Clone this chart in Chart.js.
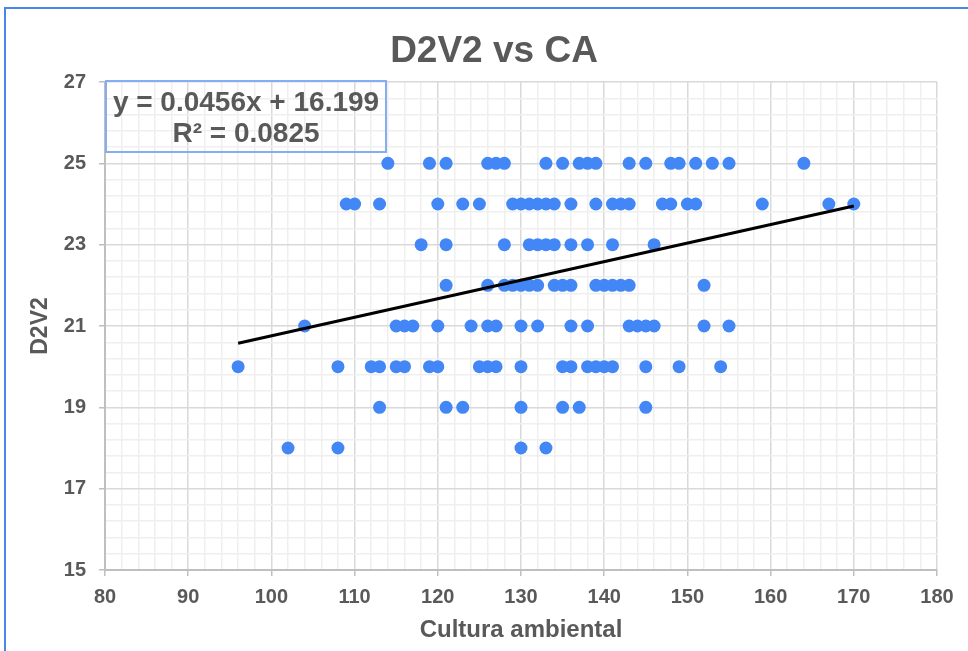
<!DOCTYPE html>
<html>
<head>
<meta charset="utf-8">
<script src="https://cdn.jsdelivr.net/npm/chart.js@4.4.1/dist/chart.umd.min.js"></script>
<style>
  html, body { margin: 0; padding: 0; background: #fff; overflow: hidden; }
  body { width: 968px; height: 651px; position: relative; font-family: "Liberation Sans", Arial, sans-serif; }
  #frame { position: absolute; left: 4px; top: 7px; width: 2000px; height: 2000px; border: 2px solid #4a86e8; box-sizing: border-box; }
  #chart-wrap { position: absolute; left: 0; top: 0; width: 968px; height: 651px; }
  #title { position: absolute; left: 294px; top: 30px; width: 400px; text-align: center; font-weight: bold; font-size: 37px; line-height: 40px; color: #595959; }
  #equation { position: absolute; left: 105px; top: 80px; width: 282px; height: 73px; box-sizing: border-box; border: 2px solid #86adf2; text-align: center; font-weight: bold; font-size: 28px; line-height: 31px; color: #595959; padding-top: 4px; white-space: nowrap; }
</style>
</head>
<body>
<div id="frame"></div>
<div id="chart-wrap"><canvas id="scatter-chart"></canvas></div>
<div id="title">D2V2 vs CA</div>
<div id="equation">y = 0.0456x + 16.199<br>R² = 0.0825</div>
<script>
// Cultura ambiental (x) and D2V2 (y), one row per D2V2 level
const row25 = [114, 119, 121, 126, 127, 128, 133, 135, 137, 138, 139, 143, 145, 148, 149, 151, 153, 155, 164];
const row24 = [109, 110, 113, 120, 123, 125, 129, 130, 131, 132, 133, 134, 136, 139, 141, 142, 143, 147, 148, 150, 151, 159, 167, 170];
const row23 = [118, 121, 128, 131, 132, 133, 134, 136, 138, 141, 146];
const row22 = [121, 126, 128, 129, 130, 131, 132, 134, 135, 136, 139, 140, 141, 142, 143, 152];
const row21 = [104, 115, 116, 117, 120, 124, 126, 127, 130, 132, 136, 138, 143, 144, 145, 146, 152, 155];
const row20 = [96, 108, 112, 113, 115, 116, 119, 120, 125, 126, 127, 130, 135, 136, 138, 139, 140, 141, 145, 149, 154];
const row19 = [113, 121, 123, 130, 135, 137, 145];
const row18 = [102, 108, 130, 133];

const levels = [25, 24, 23, 22, 21, 20, 19, 18];
const rows = [row25, row24, row23, row22, row21, row20, row19, row18];

// trendline from the equation shown on the chart
const trendSlope = 0.0456;
const trendIntercept = 16.199;

const xMin = 80, xMax = 180, xMinorStep = 2, xMajorStep = 10;
const yMin = 15, yMax = 27, yMinorStep = 0.4, yMajorStep = 2;

const points = [];
rows.forEach((xs, i) => {
    xs.forEach(x => points.push({ x: x, y: levels[i] }));
});

const allX = points.map(p => p.x);
const lineStart = Math.min(...allX);
const lineEnd = Math.max(...allX);
const trendPoints = [
    { x: lineStart, y: trendSlope * lineStart + trendIntercept },
    { x: lineEnd, y: trendSlope * lineEnd + trendIntercept }
];

const textColor = '#595959';
const fontFamily = '"Liberation Sans", Arial, sans-serif';

function isXMajor(v) {
    return Math.abs(v / xMajorStep - Math.round(v / xMajorStep)) < 1e-6;
}
function isYMajor(v) {
    const r = Math.round(v);
    return Math.abs(v - r) < 1e-6 && (r - yMin) % yMajorStep === 0;
}

new Chart(document.getElementById('scatter-chart').getContext('2d'), {
    type: 'scatter',
    data: {
        datasets: [
            {
                type: 'line',
                label: 'Tendencia',
                data: trendPoints,
                borderColor: '#000000',
                borderWidth: 3,
                pointRadius: 0,
                fill: false,
                order: 0
            },
            {
                label: 'D2V2',
                data: points,
                backgroundColor: '#4287f5',
                borderWidth: 0,
                pointRadius: 6.5,
                pointHoverRadius: 6.5,
                order: 1
            }
        ]
    },
    options: {
        responsive: true,
        maintainAspectRatio: false,
        animation: false,
        layout: { padding: { left: 0, right: 31, top: 82, bottom: 0 } },
        plugins: {
            legend: { display: false },
            title: { display: false },
            tooltip: { enabled: false }
        },
        scales: {
            x: {
                type: 'linear',
                min: xMin,
                max: xMax,
                afterFit: (scale) => { scale.height = 81; },
                ticks: {
                    stepSize: xMinorStep,
                    autoSkip: false,
                    maxRotation: 0,
                    minRotation: 0,
                    padding: 9,
                    color: textColor,
                    font: { family: fontFamily, size: 20, weight: 'bold' },
                    callback: (v) => isXMajor(v) ? String(Math.round(v)) : ''
                },
                grid: {
                    color: (ctx) => isXMajor(ctx.tick.value) ? '#d9d9d9' : '#efefef',
                    lineWidth: 1.5,
                    tickLength: 6,
                    tickColor: (ctx) => isXMajor(ctx.tick.value) ? '#bfbfbf' : 'rgba(0,0,0,0)'
                },
                border: { color: '#bfbfbf', width: 2 },
                title: {
                    display: true,
                    text: 'Cultura ambiental',
                    color: textColor,
                    font: { family: fontFamily, size: 24, weight: 'bold' },
                    padding: { top: 0, bottom: 6 }
                }
            },
            y: {
                type: 'linear',
                min: yMin,
                max: yMax,
                afterFit: (scale) => { scale.width = 105; },
                ticks: {
                    stepSize: yMinorStep,
                    autoSkip: false,
                    padding: 13,
                    color: textColor,
                    font: { family: fontFamily, size: 20, weight: 'bold' },
                    callback: (v) => isYMajor(v) ? String(Math.round(v)) : ''
                },
                grid: {
                    color: (ctx) => isYMajor(ctx.tick.value) ? '#d9d9d9' : '#efefef',
                    lineWidth: 1.5,
                    tickLength: 6,
                    tickColor: (ctx) => isYMajor(ctx.tick.value) ? '#bfbfbf' : 'rgba(0,0,0,0)'
                },
                border: { color: '#bfbfbf', width: 2 },
                title: {
                    display: true,
                    text: 'D2V2',
                    color: textColor,
                    font: { family: fontFamily, size: 23, weight: 'bold' },
                    padding: { top: 27, bottom: 0 }
                }
            }
        }
    }
});
</script>
</body>
</html>
